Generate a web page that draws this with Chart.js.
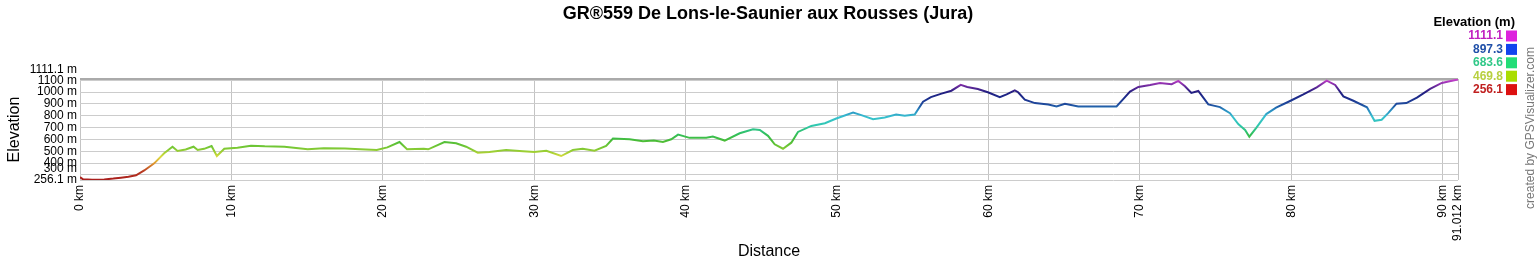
<!DOCTYPE html>
<html>
<head>
<meta charset="utf-8">
<script src="https://cdn.jsdelivr.net/npm/chart.js@4/dist/chart.umd.min.js"></script>
<style>
  html, body { margin: 0; padding: 0; background: #fff; }
  #chart { display: block; }
</style>
</head>
<body>
<canvas id="chart" width="1537" height="260"></canvas>
<script>
  // Track profile (km, m)
  const distKm = [
    0, 0.2, 0.8, 1.6, 2.2, 2.7, 3.2, 3.7, 4.24, 4.9, 5.56, 6.11, 6.44, 6.98, 7.5, 7.77, 8.2, 8.69, 9.04, 9.53,
    10.4, 11.29, 12.2, 13.5, 15.04, 16.1, 17.5, 18.5, 19.6, 20.3, 21.1, 21.6, 22.7, 23.0, 24.07, 24.84, 25.5, 26.27,
    27.04, 28.14, 29.25, 30.0, 30.8, 31.78, 32.55, 33.2, 33.98, 34.75, 35.2, 36.3, 37.18, 37.9, 38.5, 39.05, 39.5,
    40.26, 41.36, 41.8, 42.58, 43.57, 44.45, 44.9, 45.44, 45.88, 46.43, 46.98, 47.42, 48.3, 49.2, 49.95, 51.06,
    51.6, 52.38, 53.15, 53.9, 54.47, 55.13, 55.68, 56.2, 56.9, 57.55, 58.17, 58.6, 59.3, 59.96, 60.75, 61.2, 61.74,
    61.96, 62.4, 63.07, 63.95, 64.5, 65.05, 65.93, 67.47, 68.46, 68.9, 69.35, 69.9, 70.67, 71.33, 72.1, 72.54,
    72.98, 73.4, 73.86, 74.52, 75.29, 75.95, 76.5, 76.95, 77.23, 77.7, 78.35, 79.0, 79.92, 80.8, 81.68, 82.34,
    82.9, 83.44, 84.1, 85.0, 85.5, 85.97, 86.4, 86.95, 87.6, 88.3, 89.17, 89.94, 90.38, 91.012
  ];
  const elevM = [
    280, 262, 258, 261, 268, 276, 283, 296, 337, 397, 482, 538, 502, 515, 538, 510, 520, 544, 459, 520,
    530, 547, 541, 538, 516, 524, 522, 516, 510, 532, 578, 516, 520, 516, 578, 567, 538, 487,
    493, 510, 499, 493, 504, 459, 510, 521, 504, 544, 607, 601, 584, 590, 578, 601, 640,
    613, 613, 624, 590, 652, 686, 680, 630, 558, 521, 572, 663, 714, 737, 777, 828,
    805, 771, 785, 811, 800, 811, 919, 958, 987, 1012, 1061, 1044, 1027, 999, 958, 981, 1015,
    999, 936, 907, 896, 879, 902, 879, 879, 879, 941, 1004, 1044, 1061, 1078, 1067, 1095,
    1050, 993, 1010, 896, 873, 822, 729, 680, 623, 700, 814, 868, 925, 981, 1041, 1098,
    1061, 964, 927, 871, 757, 766, 822, 902, 907, 953, 1027, 1078, 1090, 1107
  ];

  const elevMin = 256.1;
  const elevMax = 1111.1;
  const distMax = 91.012;

  const xTicks = [0, 10, 20, 30, 40, 50, 60, 70, 80, 90, 91.012];
  const yTicks = [256.1, 300, 400, 500, 600, 700, 800, 900, 1000, 1100, 1111.1];

  const legendValues = [1111.1, 897.3, 683.6, 469.8, 256.1];

  // colour ramp by elevation (style)
  const rampStops = [
    [256, '#a81c1c'], [330, '#b83a22'], [400, '#e09a30'], [450, '#dcdc40'], [490, '#a4d034'],
    [530, '#78c834'], [590, '#48bc38'], [650, '#30c060'], [720, '#30c8b0'], [790, '#38c0d0'],
    [850, '#2888c0'], [890, '#1f4f9f'], [950, '#1c2c8c'], [1000, '#221e80'], [1050, '#6a2a9c'],
    [1111.1, '#d040d0']
  ];
  const legendText = ['#c020c0', '#1f4fa8', '#30c888', '#b8d040', '#c02020'];
  const legendBox = ['#dd22dd', '#1144ee', '#22dd77', '#aadd00', '#dd1111'];

  function lineGradient(context) {
    const chart = context.chart;
    const area = chart.chartArea;
    if (!area) return '#4a4';
    const y = chart.scales.y;
    const g = chart.ctx.createLinearGradient(0, y.getPixelForValue(elevMin), 0, y.getPixelForValue(elevMax));
    rampStops.forEach(s => {
      const t = Math.min(1, Math.max(0, (s[0] - elevMin) / (elevMax - elevMin)));
      g.addColorStop(t, s[1]);
    });
    return g;
  }

  const decorations = {
    id: 'decorations',
    afterDraw(chart) {
      const ctx = chart.ctx;
      const y = chart.scales.y;
      const area = chart.chartArea;
      ctx.save();

      // title
      ctx.fillStyle = '#000';
      ctx.font = 'bold 18px "Liberation Sans", Arial, sans-serif';
      ctx.textAlign = 'center';
      ctx.textBaseline = 'middle';
      ctx.fillText('GR®559 De Lons-le-Saunier aux Rousses (Jura)', 768, 14);

      // y tick labels, nudged where they collide
      ctx.font = '12px "Liberation Sans", Arial, sans-serif';
      ctx.textAlign = 'right';
      y.ticks.forEach(t => {
        let py = y.getPixelForValue(t.value);
        if (t.value === elevMax) py -= 9;
        if (t.value === 300) py -= 6;
        ctx.fillText(t.value + ' m', 77, py);
      });

      // axis titles
      ctx.font = '16px "Liberation Sans", Arial, sans-serif';
      ctx.textAlign = 'center';
      ctx.fillText('Distance', (area.left + area.right) / 2, 252);
      ctx.save();
      ctx.translate(15, (area.top + area.bottom) / 2);
      ctx.rotate(-Math.PI / 2);
      ctx.fillText('Elevation', 0, 0);
      ctx.restore();

      // elevation legend
      ctx.font = 'bold 13px "Liberation Sans", Arial, sans-serif';
      ctx.textAlign = 'right';
      ctx.fillText('Elevation (m)', 1515, 22);
      ctx.font = 'bold 12px "Liberation Sans", Arial, sans-serif';
      legendValues.forEach((v, i) => {
        const py = 36 + i * 13.4;
        ctx.fillStyle = legendText[i];
        ctx.fillText(v.toFixed(1), 1503, py);
        ctx.fillStyle = legendBox[i];
        ctx.fillRect(1506, py - 5.5, 11, 11);
      });

      // credit
      ctx.fillStyle = '#777';
      ctx.font = '12px "Liberation Sans", Arial, sans-serif';
      ctx.textAlign = 'center';
      ctx.translate(1531, 128);
      ctx.rotate(-Math.PI / 2);
      ctx.fillText('created by GPSVisualizer.com', 0, 0);
      ctx.restore();
    }
  };

  new Chart(document.getElementById('chart'), {
    type: 'line',
    data: {
      datasets: [{
        data: distKm.map((d, i) => ({ x: d, y: elevM[i] })),
        borderColor: lineGradient,
        borderWidth: 2,
        pointRadius: 0,
        tension: 0,
        fill: false
      }]
    },
    options: {
      responsive: false,
      animation: false,
      devicePixelRatio: 1,
      layout: { padding: { top: 79, right: 79, left: 0, bottom: 0 } },
      plugins: { legend: { display: false }, tooltip: { enabled: false } },
      scales: {
        x: {
          type: 'linear',
          min: 0,
          max: distMax,
          afterBuildTicks: s => { s.ticks = xTicks.map(v => ({ value: v })); },
          afterFit: s => { s.height = 80; },
          border: { display: false },
          grid: { color: '#c4c4c4', drawTicks: false },
          ticks: {
            autoSkip: false,
            minRotation: 90,
            maxRotation: 90,
            padding: 5,
            color: '#000',
            font: { family: '"Liberation Sans", Arial, sans-serif', size: 12 },
            callback: v => v + ' km'
          }
        },
        y: {
          type: 'linear',
          min: elevMin,
          max: elevMax,
          afterBuildTicks: s => { s.ticks = yTicks.map(v => ({ value: v })); },
          afterFit: s => { s.width = 80; },
          border: { display: false },
          grid: {
            drawTicks: false,
            color: c => (c.tick && c.tick.value === elevMax) ? '#aaaaaa' : '#cccccc',
            lineWidth: c => (c.tick && c.tick.value === elevMax) ? 2 : 1
          },
          ticks: { display: false }
        }
      }
    },
    plugins: [decorations]
  });
</script>
</body>
</html>
